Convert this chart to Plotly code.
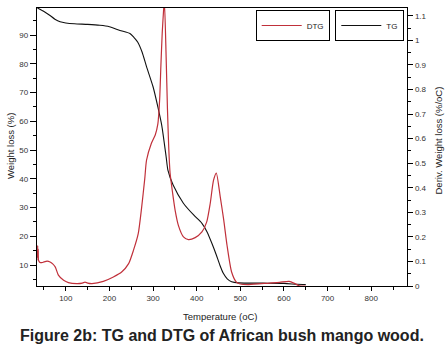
import plotly.graph_objects as go

# TG curve (weight %, left axis)
tg_temp = [35, 50, 63, 75, 87, 100, 120, 150, 178, 200, 224, 247, 256, 265, 275, 285, 300, 311,
           320, 330, 334, 346, 369.5, 393, 412, 423.5, 435, 445, 453, 461, 470, 480, 496, 550,
           600, 630, 650]
tg_val = [99.4, 98.2, 96.9, 95.5, 94.6, 94.2, 93.9, 93.7, 93.4, 92.9, 91.6, 90.5, 89.2, 87.5,
          84.0, 79.0, 72.0, 65.0, 58.5, 47.6, 43.0, 37.8, 31.5, 27.4, 24.5, 21.6, 17.5, 13.5,
          10.0, 7.1, 5.2, 4.2, 3.8, 3.7, 3.6, 3.3, 3.2]

# DTG curve (%/oC, right axis)
dtg_temp = [35, 35.6, 36.2, 36.8, 37.5, 40, 45, 50, 57, 64, 70, 76, 83, 95, 106, 125, 138, 144,
            150, 160, 186, 209, 228, 244, 255, 266, 273.5, 281, 285, 296, 305, 311, 315, 318,
            321, 324, 326, 330, 333, 336, 339, 345, 350.6, 358, 369.7, 381, 396.5, 412, 423,
            431, 438.5, 445, 454, 462, 469.5, 480, 491, 500, 520, 566, 590, 612, 625, 635, 650]
dtg_val = [0.115, 0.165, 0.105, 0.15, 0.105, 0.097, 0.095, 0.098, 0.101, 0.098, 0.09, 0.077,
           0.044, 0.023, 0.014, 0.01, 0.012, 0.016, 0.012, 0.01, 0.019, 0.037, 0.057, 0.091,
           0.145, 0.213, 0.315, 0.437, 0.512, 0.58, 0.615, 0.66, 0.756, 0.9, 1.03, 1.12, 1.16,
           0.93, 0.72, 0.56, 0.46, 0.376, 0.308, 0.247, 0.2, 0.189, 0.197, 0.22, 0.261, 0.336,
           0.43, 0.46, 0.363, 0.268, 0.166, 0.057, 0.016, 0.008, 0.006, 0.012, 0.015, 0.019,
           0.01, 0.001, 0.0]

left_ticks = [10, 20, 30, 40, 50, 60, 70, 80, 90]
left_minor = [5, 15, 25, 35, 45, 55, 65, 75, 85, 95]

FONT = "Liberation Sans, Arial, sans-serif"
TICKC = "#333333"

W, H = 448, 349
ML, MT, PW, PH = 37, 8, 370, 278

fig = go.Figure()
fig.add_trace(go.Scatter(x=dtg_temp, y=dtg_val, name="DTG", yaxis="y2", mode="lines",
                         line=dict(color="#c0303a", width=1.2, shape="spline", smoothing=0.6),
                         legend="legend"))
fig.add_trace(go.Scatter(x=tg_temp, y=tg_val, name="TG", mode="lines",
                         line=dict(color="#111111", width=1.1, shape="spline", smoothing=0.6),
                         legend="legend2"))

axis_common = dict(showgrid=False, zeroline=False, showline=True, linecolor="black",
                   linewidth=1.3, ticks="outside", tickcolor="black", tickwidth=1,
                   tickfont=dict(family=FONT, size=8, color=TICKC))


def px(sx):
    return (sx - ML) / PW


def py(sy):
    return 1 - (sy - MT) / PH


fig.update_layout(
    width=W, height=H,
    margin=dict(l=ML, r=W - ML - PW, t=MT, b=H - MT - PH, pad=0),
    paper_bgcolor="white", plot_bgcolor="white",
    font=dict(family=FONT, color="#222222"),
    hovermode=False,
    xaxis=dict(range=[34, 882], dtick=100, tick0=0, ticklen=4, mirror=True,
               minor=dict(dtick=50, tick0=0, ticklen=2.5, ticks="outside", tickcolor="black"),
               **axis_common),
    yaxis=dict(range=[2.7, 99.4], tickvals=left_ticks, ticklen=6, mirror=True,
               minor=dict(tickvals=left_minor, ticklen=3, ticks="outside", tickcolor="black"),
               **axis_common),
    yaxis2=dict(range=[0, 1.132], overlaying="y", side="right", dtick=0.1, tick0=0, ticklen=5,
                minor=dict(dtick=0.05, tick0=0, ticklen=3, ticks="outside", tickcolor="black"),
                **axis_common),
    legend=dict(x=px(255.7), y=py(10), xanchor="left", yanchor="top", bgcolor="white",
                bordercolor="black", borderwidth=1, font=dict(family=FONT, size=8, color="#222"),
                itemwidth=40, tracegroupgap=0),
    legend2=dict(x=px(335.3), y=py(10), xanchor="left", yanchor="top", bgcolor="white",
                 bordercolor="black", borderwidth=1, font=dict(family=FONT, size=8, color="#222"),
                 itemwidth=40, tracegroupgap=0),
    showlegend=True,
)

fig.add_annotation(text="Temperature (oC)", xref="paper", yref="paper",
                   x=px(220), y=py(316), xanchor="center", yanchor="middle",
                   showarrow=False, font=dict(family=FONT, size=9.5, color="#222"))
fig.add_annotation(text="Weight loss (%)", xref="paper", yref="paper",
                   x=px(10), y=py(146), xanchor="center", yanchor="middle",
                   textangle=-90, showarrow=False, font=dict(family=FONT, size=9.5, color="#222"))
fig.add_annotation(text="Deriv. Weight loss (%/oC)", xref="paper", yref="paper",
                   x=px(437.5), y=py(141), xanchor="center", yanchor="middle",
                   textangle=-90, showarrow=False, font=dict(family=FONT, size=9.5, color="#222"))
fig.add_annotation(text="<b>Figure 2b: TG and DTG of African bush mango wood.</b>",
                   xref="paper", yref="paper", x=px(222), y=py(335),
                   xanchor="center", yanchor="middle", showarrow=False,
                   font=dict(family=FONT, size=16, color="#222"))

fig.write_html("out.html", config={"displayModeBar": False, "staticPlot": True},
               post_script="document.body.style.margin='0';document.body.style.overflow='hidden';")
